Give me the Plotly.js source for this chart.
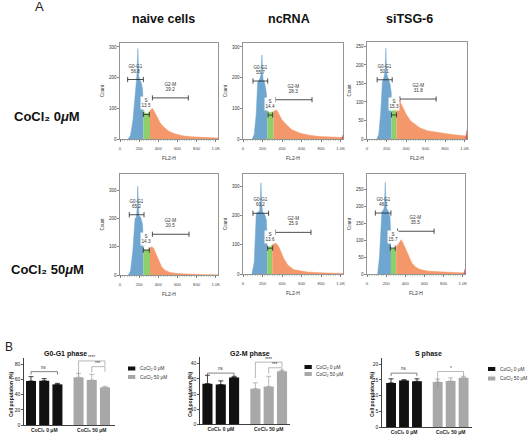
<!DOCTYPE html>
<html>
<head>
<meta charset="utf-8">
<script src="https://cdn.plot.ly/plotly-3.0.1.min.js"></script>
<style>html,body{margin:0;padding:0;background:#fff;}#chart{width:531px;height:445px;}</style>
</head>
<body>
<div id="chart"></div>
<script>
// ---------- DATA: flow cytometry histograms (FL2-H vs Count) ----------
const columnTitles = ["naive cells", "ncRNA", "siTSG-6"];
const rowTitles = ["CoCl₂ 0<i>μ</i>M", "CoCl₂ 50<i>μ</i>M"];
const histTickVals = [0, 200, 400, 600, 800, 1000];
const histTickText = ["0", "200", "400", "600", "800", "1.0K"];

// panel 1: naive, CoCl2 0
const p1G1x = [85, 110, 135, 155, 170, 178, 183, 186, 190, 196, 205, 220, 235, 244];
const p1G1y = [0, 12, 60, 150, 185, 215, 270, 295, 260, 205, 195, 185, 165, 110];
const p1Sx = [244, 260, 280, 300, 313];
const p1Sy = [95, 85, 82, 85, 92];
const p1G2x = [313, 330, 345, 365, 390, 420, 460, 510, 570, 650, 750, 870, 1000, 1024];
const p1G2y = [92, 100, 98, 85, 68, 52, 38, 25, 17, 11, 7, 5, 3, 3];
const p1Pct = ["56.8", "13.5", "29.2"];
// panel 2: ncRNA, CoCl2 0
const p2G1x = [95, 115, 135, 150, 170, 185, 190, 194, 198, 205, 220, 235, 250];
const p2G1y = [0, 15, 80, 185, 195, 210, 250, 274, 235, 195, 185, 160, 110];
const p2Sx = [250, 265, 285, 305, 313];
const p2Sy = [95, 88, 86, 88, 90];
const p2G2x = [313, 330, 348, 370, 400, 450, 500, 587, 680, 792, 900, 1010, 1024];
const p2G2y = [90, 95, 93, 80, 62, 45, 30, 19, 12, 8, 6, 5, 5];
const p2Edge = [0, 14];
const p2Pct = ["55.7", "14.4", "28.3"];
// panel 3: siTSG-6, CoCl2 0
const p3G1x = [100, 120, 140, 158, 172, 185, 190, 193, 196, 203, 215, 235, 251];
const p3G1y = [0, 12, 70, 155, 165, 180, 220, 245, 215, 175, 165, 150, 120];
const p3Sx = [251, 265, 285, 302];
const p3Sy = [110, 100, 100, 108];
const p3G2x = [302, 320, 340, 370, 405, 450, 500, 543, 620, 749, 870, 989, 1024];
const p3G2y = [108, 110, 100, 85, 65, 48, 37, 30, 22, 16, 12, 9, 8];
const p3Edge = [0, 25];
const p3Pct = ["50.1", "15.3", "31.8"];
// panel 4: naive, CoCl2 50
const p4G1x = [87, 110, 135, 157, 172, 180, 185, 190, 198, 215, 235, 244];
const p4G1y = [0, 15, 90, 199, 205, 240, 314, 250, 210, 205, 180, 120];
const p4Sx = [244, 265, 290, 313];
const p4Sy = [92, 88, 88, 95];
const p4G2x = [313, 331, 350, 383, 410, 435, 470, 522, 600, 731, 880, 1024];
const p4G2y = [95, 100, 95, 70, 48, 29, 17, 9, 5, 2, 1, 1];
const p4Pct = ["65.2", "14.3", "20.5"];
// panel 5: ncRNA, CoCl2 50
const p5G1x = [92, 115, 136, 155, 170, 178, 184, 190, 200, 220, 239, 248];
const p5G1y = [0, 40, 207, 210, 215, 250, 311, 250, 212, 205, 185, 120];
const p5Sx = [248, 265, 285, 300];
const p5Sy = [95, 92, 94, 100];
const p5G2x = [300, 320, 341, 370, 416, 460, 519, 600, 655, 800, 1024];
const p5G2y = [100, 104, 105, 90, 54, 30, 15, 9, 7, 4, 2];
const p5Pct = ["60.2", "13.6", "25.9"];
// panel 6: siTSG-6, CoCl2 50
const p6G1x = [111, 130, 156, 172, 182, 187, 191, 195, 203, 220, 240, 250];
const p6G1y = [0, 50, 186, 190, 200, 235, 273, 235, 195, 188, 170, 110];
const p6Sx = [250, 265, 285, 305];
const p6Sy = [78, 75, 76, 80];
const p6G2x = [305, 325, 345, 358, 380, 416, 468, 510, 556, 650, 764, 900, 1024];
const p6G2y = [80, 88, 98, 102, 90, 67, 33, 20, 13, 8, 6, 4, 3];
const p6Edge = [0, 15];
const p6Pct = ["48.1", "15.7", "35.5"];
const edgeX = [1010, 1024];

// gate bounds [from, to, level] for G0-G1, S, G2-M
const p1Gates = [[80, 244, 194], [244, 306, 80], [338, 714, 134]];
const p2Gates = [[102, 253, 189], [256, 304, 78], [331, 707, 128]];
const p3Gates = [[104, 258, 160], [251, 302, 65], [337, 708, 108]];
const p4Gates = [[97, 251, 213], [244, 306, 88], [338, 721, 144]];
const p5Gates = [[102, 262, 207], [252, 304, 88], [331, 696, 142]];
const p6Gates = [[87, 250, 181], [243, 295, 77], [319, 701, 127]];

// ---------- DATA: bar charts (Cell population %) ----------
const groupLabels = ["CoCl₂ 0 μM", "CoCl₂ 50 μM"];
const legendLabels = ["CoCl₂ 0 μM", "CoCl₂ 50 μM"];
const barTitles = ["G0-G1 phase", "G2-M phase", "S phase"];
const g1Ctrl = [57.7, 58.0, 53.3];
const g1CtrlErr = [5.7, 2.8, 1.3];
const g1Co = [62.5, 59.0, 49.4];
const g1CoErr = [5.3, 7.4, 1.3];
const g2Ctrl = [26.8, 26.2, 30.8];
const g2CtrlErr = [5.5, 2.4, 0.8];
const g2Co = [23.5, 25.0, 35.0];
const g2CoErr = [3.8, 6.6, 0.6];
const sCtrl = [14.0, 14.8, 14.5];
const sCtrlErr = [1.3, 0.2, 0.8];
const sCo = [14.3, 14.6, 15.6];
const sCoErr = [0.9, 1.0, 0.5];
// significance brackets: [bar a, bar b, level, label]  (bars 0-2 = 0 μM, 3-5 = 50 μM)
const g1Sig = [[0, 2, 70, "ns"], [3, 5, 84, "****"], [4, 5, 76.5, "***"]];
const g2Sig = [[0, 2, 33.7, "ns"], [3, 5, 40.9, "****"], [4, 5, 37.2, "***"]];
const sSig = [[0, 2, 17.1, "ns"], [3, 5, 17.6, "*"]];

// ---------- LAYOUT HELPERS ----------
const W = 531, H = 445;
const FONT = "Liberation Sans, Arial, Helvetica, sans-serif";
const xd = (a, b) => [a / W, b / W];
const yd = (top, bot) => [1 - bot / H, 1 - top / H];
const px = v => v / W;
const py = v => 1 - v / H;

const BLUE = "#6ea6cf", GREEN = "#8ccf6b", ORANGE = "#f4976a", RED = "#e05050";

const panels = [
  {g1x: p1G1x, g1y: p1G1y, sx: p1Sx, sy: p1Sy, g2x: p1G2x, g2y: p1G2y, edge: null, pct: p1Pct, gates: p1Gates,
   xdom: [120, 218], ydom: [43, 139], ymax: 313, dt: 100},
  {g1x: p2G1x, g1y: p2G1y, sx: p2Sx, sy: p2Sy, g2x: p2G2x, g2y: p2G2y, edge: p2Edge, pct: p2Pct, gates: p2Gates,
   xdom: [243, 343], ydom: [43, 139], ymax: 313, dt: 100},
  {g1x: p3G1x, g1y: p3G1y, sx: p3Sx, sy: p3Sy, g2x: p3G2x, g2y: p3G2y, edge: p3Edge, pct: p3Pct, gates: p3Gates,
   xdom: [367, 467], ydom: [42, 139], ymax: 262, dt: 50},
  {g1x: p4G1x, g1y: p4G1y, sx: p4Sx, sy: p4Sy, g2x: p4G2x, g2y: p4G2y, edge: null, pct: p4Pct, gates: p4Gates,
   xdom: [120, 218], ydom: [174, 275], ymax: 357, dt: 100},
  {g1x: p5G1x, g1y: p5G1y, sx: p5Sx, sy: p5Sy, g2x: p5G2x, g2y: p5G2y, edge: null, pct: p5Pct, gates: p5Gates,
   xdom: [243, 343], ydom: [174, 274], ymax: 341, dt: 100},
  {g1x: p6G1x, g1y: p6G1y, sx: p6Sx, sy: p6Sy, g2x: p6G2x, g2y: p6G2y, edge: p6Edge, pct: p6Pct, gates: p6Gates,
   xdom: [367, 465], ydom: [174, 274], ymax: 297, dt: 50}
];

const traces = [];
const shapes = [];
const annotations = [];
const layout = {
  width: W, height: H, margin: {l: 0, r: 0, t: 0, b: 0},
  paper_bgcolor: "#fff", plot_bgcolor: "rgba(0,0,0,0)",
  showlegend: false, font: {family: FONT, color: "#222"}
};

function note(x, y, text, size, extra) {
  return Object.assign({xref: "paper", yref: "paper", x: px(x), y: py(y), text: text, showarrow: false,
    xanchor: "center", yanchor: "middle", font: {size: size, color: "#111"}}, extra || {});
}

function fillTrace(k, x, y, color) {
  return {type: "scatter", mode: "lines", x: x, y: y, xaxis: "x" + k, yaxis: "y" + k,
    fill: "tozeroy", fillcolor: color, line: {color: color, width: 0.5}, hoverinfo: "skip"};
}

panels.forEach((p, i) => {
  const k = i + 1;
  traces.push(fillTrace(k, p.g1x, p.g1y, BLUE));
  traces.push(fillTrace(k, p.sx, p.sy, GREEN));
  traces.push(fillTrace(k, p.g2x, p.g2y, ORANGE));
  if (p.edge) traces.push(fillTrace(k, edgeX, p.edge, RED));
  layout["xaxis" + k] = {
    domain: xd(p.xdom[0], p.xdom[1]), anchor: "y" + k, range: [0, 1024],
    tickvals: histTickVals, ticktext: histTickText, tickfont: {size: 4.2, color: "#444"},
    ticks: "outside", ticklen: 2, tickwidth: 0.6, tickcolor: "#333",
    minor: {ticks: "outside", ticklen: 1.2, dtick: 25, tickcolor: "#8a8", tickwidth: 0.5},
    showline: true, linecolor: "#666", linewidth: 0.7, mirror: true,
    showgrid: false, zeroline: false, ticklabelstandoff: 3,
    title: {text: "FL2-H", font: {size: 5, color: "#333"}, standoff: 6}
  };
  const yt = [];
  for (let v = 0; v <= p.ymax; v += p.dt) yt.push(v);
  layout["yaxis" + k] = {
    domain: yd(p.ydom[0], p.ydom[1]), anchor: "x" + k, range: [0, p.ymax],
    tickmode: "array", tickvals: yt, ticktext: yt.map(String), tickfont: {size: 4.5, color: "#333"},
    ticks: "outside", ticklen: 2, tickwidth: 0.6, tickcolor: "#333",
    showline: true, linecolor: "#666", linewidth: 0.7, mirror: true,
    showgrid: false, zeroline: false, showticklabels: true,
    title: {text: "Count", font: {size: 4.5, color: "#333"}, standoff: 4}
  };
  // gates
  const names = ["G0-G1", "S", "G2-M"];
  p.gates.forEach((g, j) => {
    const xr = "x" + k, yr = "y" + k;
    shapes.push({type: "line", xref: xr, yref: yr, x0: g[0], x1: g[1], y0: g[2], y1: g[2],
      line: {color: "#222", width: 0.8}});
    [g[0], g[1]].forEach(xx => shapes.push({type: "line", xref: xr, yref: yr, x0: xx, x1: xx,
      ysizemode: "pixel", yanchor: g[2], y0: -2.6, y1: 2.6, line: {color: "#222", width: 0.8}}));
    const cx = (g[0] + g[1]) / 2;
    annotations.push({xref: xr, yref: yr, x: cx, y: g[2], yshift: 4,
      xanchor: "center", yanchor: "bottom", showarrow: false, align: "center",
      text: names[j] + "<br>" + p.pct[j], font: {size: 4.6, color: "#333"},
      bgcolor: j === 1 ? "rgba(255,255,255,0.95)" : "rgba(0,0,0,0)", borderpad: 0.5});
  });
});

// column titles & row titles
[163, 289, 409].forEach((cx, i) => annotations.push(note(cx, 19, "<b>" + columnTitles[i] + "</b>", 12.5)));
[117, 269].forEach((cy, i) => annotations.push(note(47, cy, "<b>" + rowTitles[i] + "</b>", 13)));
annotations.push(note(39, 7, "A", 13, {font: {size: 13, color: "#222"}}));
annotations.push(note(9, 347, "B", 12, {font: {size: 12, color: "#222"}}));

// ---------- BAR CHARTS ----------
const groupOffset = 3.6;
const barSets = [
  {ctrl: g1Ctrl, ctrlErr: g1CtrlErr, co: g1Co, coErr: g1CoErr, sig: g1Sig, dtick: 20, ymax: 80, ytop: 88,
   xdom: [24, 115], zeroY: 425, topY: 364, xr: [-0.53, 6.36], title: barTitles[0], tcx: 65, ytx: 11,
   leg: [128, 368.5, 377]},
  {ctrl: g2Ctrl, ctrlErr: g2CtrlErr, co: g2Co, coErr: g2CoErr, sig: g2Sig, dtick: 10, ymax: 40, ytop: 44,
   xdom: [200, 290], zeroY: 424.5, topY: 363.5, xr: [-0.56, 6.2], title: barTitles[1], tcx: 250, ytx: 190,
   leg: [304.5, 367, 374]},
  {ctrl: sCtrl, ctrlErr: sCtrlErr, co: sCo, coErr: sCoErr, sig: sSig, dtick: 5, ymax: 20, ytop: 22,
   xdom: [382, 472], zeroY: 427, topY: 364, xr: [-0.7, 6.25], title: barTitles[2], tcx: 428, ytx: 372,
   leg: [488, 369, 378.5]}
];

barSets.forEach((b, i) => {
  const k = 7 + i;
  const xa = "x" + k, ya = "y" + k;
  const xc = b.ctrl.map((_, j) => j);
  const xco = b.co.map((_, j) => j + groupOffset);
  traces.push({type: "bar", x: xc, y: b.ctrl, xaxis: xa, yaxis: ya, width: 0.76,
    marker: {color: "#111", line: {width: 0}},
    error_y: {type: "data", array: b.ctrlErr, arrayminus: b.ctrl.map(() => 0), symmetric: false,
      color: "#111", thickness: 0.8, width: 2.5}, name: legendLabels[0], hoverinfo: "skip"});
  traces.push({type: "bar", x: xco, y: b.co, xaxis: xa, yaxis: ya, width: 0.76,
    marker: {color: "#a8a8a8", line: {width: 0}},
    error_y: {type: "data", array: b.coErr, arrayminus: b.co.map(() => 0), symmetric: false,
      color: "#a8a8a8", thickness: 0.8, width: 2.5}, name: legendLabels[1], hoverinfo: "skip"});
  const pxPerUnit = (b.zeroY - b.topY) / b.ymax;
  const topPx = b.zeroY - b.ytop * pxPerUnit;
  layout["xaxis" + k] = {
    domain: xd(b.xdom[0], b.xdom[1]), anchor: ya, range: b.xr,
    tickvals: [1, 1 + groupOffset], ticktext: groupLabels.map(g => "<b>" + g + "</b>"),
    tickfont: {size: 5, color: "#222"}, ticks: "", showline: true, linecolor: "#111", linewidth: 0.8,
    showgrid: false, zeroline: false
  };
  layout["yaxis" + k] = {
    domain: yd(topPx, b.zeroY), anchor: xa, range: [0, b.ytop],
    tickmode: "array", tickvals: [0, b.dtick, 2 * b.dtick, 3 * b.dtick, 4 * b.dtick],
    tickfont: {size: 5, color: "#222"}, ticks: "outside", ticklen: 2, tickwidth: 0.7, tickcolor: "#111",
    showline: true, linecolor: "#111", linewidth: 0.8, showgrid: false, zeroline: false
  };
  annotations.push(note(b.tcx, 354, "<b>" + b.title + "</b>", 7));
  annotations.push(note(b.ytx, 394, "<b>Cell population (%)</b>", 5, {textangle: -90}));
  // significance brackets
  const pos = j => (j < 3 ? j : j - 3 + groupOffset);
  b.sig.forEach(s => {
    const x0 = pos(s[0]), x1 = pos(s[1]);
    const col = s[3] === "ns" ? "#333" : "#888";
    const legL = s[3] === "ns" ? 3 : (s[0] === 3 && s[1] === 5 ? 16 : 6);
    const legR = s[3] === "ns" ? 3 : 5;
    shapes.push({type: "line", xref: xa, yref: ya, x0: x0, x1: x1, y0: s[2], y1: s[2], line: {color: col, width: 0.6}});
    shapes.push({type: "line", xref: xa, yref: ya, x0: x0, x1: x0, ysizemode: "pixel", yanchor: s[2], y0: 0, y1: -legL,
      line: {color: col, width: 0.6}});
    shapes.push({type: "line", xref: xa, yref: ya, x0: x1, x1: x1, ysizemode: "pixel", yanchor: s[2], y0: 0, y1: -legR,
      line: {color: col, width: 0.6}});
    annotations.push({xref: xa, yref: ya, x: (x0 + x1) / 2, y: s[2], xanchor: "center", yanchor: "bottom",
      yshift: s[3] === "ns" ? 0 : -1.5, text: s[3], showarrow: false, font: {size: 4.5, color: "#333"}});
  });
  // legend (manual, compact)
  const lx = b.leg[0];
  [b.leg[1], b.leg[2]].forEach((ly, j) => {
    shapes.push({type: "rect", xref: "paper", yref: "paper", x0: px(lx), x1: px(lx + 7.3), y0: py(ly + 2), y1: py(ly - 2),
      fillcolor: j === 0 ? "#111" : "#a8a8a8", line: {width: 0}});
    annotations.push(note(lx + 9.5, ly, legendLabels[j], 4.8, {xanchor: "left", font: {size: 4.8, color: "#333"}}));
  });
});

layout.shapes = shapes;
layout.annotations = annotations;
Plotly.newPlot("chart", traces, layout, {staticPlot: true, displayModeBar: false});
</script>
</body>
</html>
